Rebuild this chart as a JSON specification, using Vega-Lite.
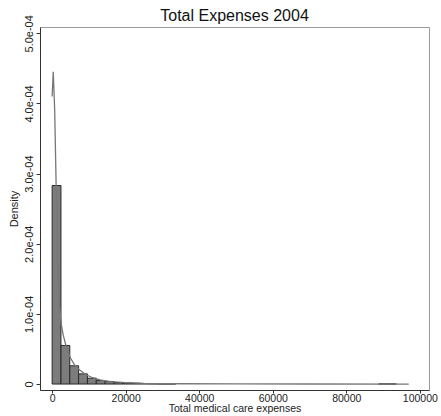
{
  "$schema": "https://vega.github.io/schema/vega-lite/v6.json",
  "width": 389,
  "height": 363,
  "autosize": "none",
  "padding": {"left": 40, "top": 27, "right": 12, "bottom": 26},
  "background": "white",
  "config": {
    "font": "Liberation Sans",
    "view": {"stroke": "#9a9a9a", "strokeWidth": 1},
    "axis": {"grid": false, "domainColor": "#333333", "tickColor": "#333333", "labelColor": "#222222", "titleColor": "#222222", "labelFontSize": 11, "titleFontSize": 11, "titleFontWeight": "normal", "tickSize": 4, "labelFont": "Liberation Sans", "titleFont": "Liberation Sans"}
  },
  "title": {"text": "Total Expenses 2004", "fontSize": 16, "fontWeight": "normal", "font": "Liberation Sans", "color": "#111111", "anchor": "middle", "offset": -9},
  "datasets": {
    "bars": [
      {"bin_start": 0, "bin_end": 2400, "density": 0.000283, "base": 0},
      {"bin_start": 2400, "bin_end": 4800, "density": 0.000055, "base": 0},
      {"bin_start": 4800, "bin_end": 7200, "density": 0.000026, "base": 0},
      {"bin_start": 7200, "bin_end": 9600, "density": 0.0000145, "base": 0},
      {"bin_start": 9600, "bin_end": 12000, "density": 0.0000083, "base": 0},
      {"bin_start": 12000, "bin_end": 14400, "density": 0.000005, "base": 0},
      {"bin_start": 14400, "bin_end": 16800, "density": 0.0000036, "base": 0},
      {"bin_start": 16800, "bin_end": 19200, "density": 0.0000022, "base": 0},
      {"bin_start": 19200, "bin_end": 21600, "density": 0.0000015, "base": 0},
      {"bin_start": 21600, "bin_end": 24000, "density": 0.0000011, "base": 0},
      {"bin_start": 24000, "bin_end": 26400, "density": 0.0000008, "base": 0},
      {"bin_start": 26400, "bin_end": 28800, "density": 0.0000006, "base": 0},
      {"bin_start": 28800, "bin_end": 31200, "density": 0.0000004, "base": 0},
      {"bin_start": 31200, "bin_end": 33600, "density": 0.0000003, "base": 0},
      {"bin_start": 88800, "bin_end": 91200, "density": 0.0000001, "base": 0},
      {"bin_start": 91200, "bin_end": 93600, "density": 0.0000001, "base": 0}
    ],
    "kde": [
      {"x": 0, "d": 0.000410},
      {"x": 300, "d": 0.000445},
      {"x": 700, "d": 0.000390},
      {"x": 1100, "d": 0.000280},
      {"x": 1500, "d": 0.000165},
      {"x": 2000, "d": 0.000110},
      {"x": 2500, "d": 0.000085},
      {"x": 3000, "d": 0.000070},
      {"x": 4000, "d": 0.000050},
      {"x": 5000, "d": 0.000037},
      {"x": 6000, "d": 0.000028},
      {"x": 7500, "d": 0.000020},
      {"x": 9000, "d": 0.000014},
      {"x": 11000, "d": 0.000009},
      {"x": 13000, "d": 0.000006},
      {"x": 16000, "d": 0.0000035},
      {"x": 20000, "d": 0.000002},
      {"x": 25000, "d": 0.000001},
      {"x": 35000, "d": 0.0000004},
      {"x": 50000, "d": 0.00000015},
      {"x": 70000, "d": 0.00000005},
      {"x": 97000, "d": 0.0}
    ]
  },
  "encoding": {
    "x": {"type": "quantitative",
          "scale": {"domain": [-3300, 102500], "nice": false, "zero": false},
          "axis": {"values": [0, 20000, 40000, 60000, 80000, 100000], "format": "d", "title": "Total medical care expenses", "titlePadding": 0, "labelPadding": 0, "tickSize": 3, "labelFontSize": 10.5, "titleFontSize": 10.5}},
    "y": {"type": "quantitative",
          "scale": {"domain": [-0.0000085, 0.000509], "nice": false, "zero": false},
          "axis": {"values": [0, 0.0001, 0.0002, 0.0003, 0.0004, 0.0005],
                   "labelExpr": "datum.value == 0 ? '0' : replace(format(datum.value, '.1e'), 'e-4', 'e-04')",
                   "labelAngle": -90, "labelAlign": "center", "labelBaseline": "bottom", "labelPadding": 2,
                   "title": "Density", "titlePadding": 4}}
  },
  "layer": [
    {
      "data": {"name": "bars"},
      "mark": {"type": "rect", "fill": "#7c7c7c", "stroke": "#2a2a2a", "strokeWidth": 1},
      "encoding": {
        "x": {"field": "bin_start", "type": "quantitative"},
        "x2": {"field": "bin_end"},
        "y": {"field": "density", "type": "quantitative"},
        "y2": {"field": "base"}
      }
    },
    {
      "data": {"name": "kde"},
      "mark": {"type": "line", "color": "#777777", "strokeWidth": 1.3},
      "encoding": {
        "x": {"field": "x", "type": "quantitative"},
        "y": {"field": "d", "type": "quantitative"}
      }
    }
  ]
}
